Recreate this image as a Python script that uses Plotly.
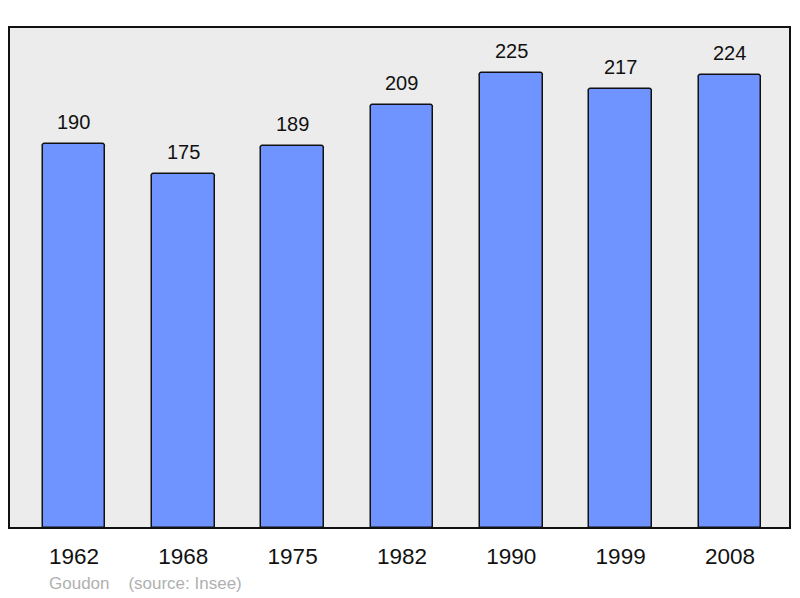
import plotly.graph_objects as go

years = ["1962", "1968", "1975", "1982", "1990", "1999", "2008"]
population = [190, 175, 189, 209, 225, 217, 224]
footer_text = "Goudon    (source: Insee)"

x_idx = list(range(len(years)))
FONT = "Liberation Sans, Arial"

fig = go.Figure()
fig.add_trace(go.Bar(
    x=x_idx, y=population, width=0.575,
    marker=dict(color="#7094ff", line=dict(color="#111111", width=1.5), cornerradius=3),
    hoverinfo="skip",
))

for i, v in zip(x_idx, population):
    fig.add_annotation(x=i, y=v, text=str(v), showarrow=False, yanchor="bottom",
                       yshift=9, font=dict(size=20, color="#111111", family=FONT))

fig.add_shape(type="rect", xref="paper", yref="paper", x0=0, y0=0, x1=1, y1=1,
              line=dict(color="#111111", width=2), layer="above")

fig.add_annotation(xref="paper", yref="paper", x=0.049, y=-0.11, xanchor="left", yanchor="middle",
                   text=footer_text.replace(" ", "&nbsp;"), showarrow=False,
                   font=dict(size=17, color="#b0b0b0", family=FONT))

fig.update_xaxes(range=[-0.594, 6.549], tickvals=x_idx, ticktext=years, showgrid=False,
                 zeroline=False, showline=False, ticks="", ticklabelstandoff=12,
                 tickfont=dict(size=22.5, color="#111111", family=FONT))
fig.update_yaxes(range=[0, 247.8], showticklabels=False, showgrid=False, zeroline=False, showline=False)

# page body has an 8px margin; compensate so the plot lands where the reference has it
fig.update_layout(
    width=800, height=598,
    margin=dict(l=1, r=18, t=19, b=78),
    plot_bgcolor="#ececec", paper_bgcolor="#ffffff",
    showlegend=False, bargap=0,
)

fig.write_html("out.html")
